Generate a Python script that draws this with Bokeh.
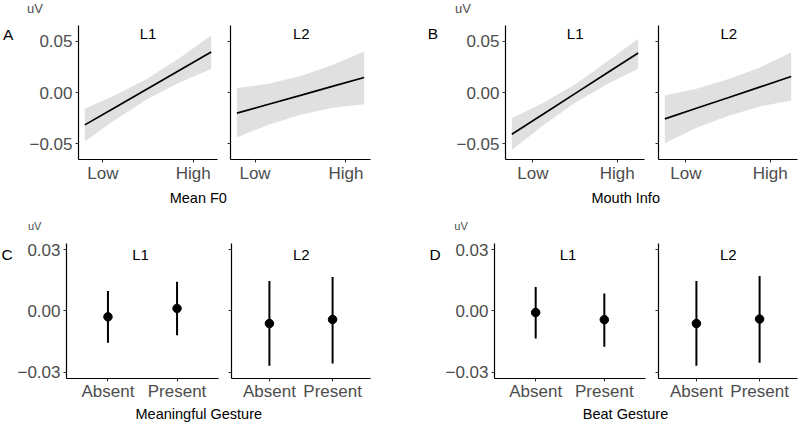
from bokeh.plotting import figure
from bokeh.models import Range1d, FixedTicker, Label
from bokeh.layouts import row, column
from bokeh.core.properties import value
from bokeh.embed import file_html
from bokeh.resources import INLINE

FONT = "Liberation Sans"

# ---------------- data ----------------
# Panel A (Mean F0), continuous predictor
xA = [-1.4, -0.7, 0.0, 0.7, 1.4]
A_L1_fit = [-0.0317, -0.0139, 0.0040, 0.0218, 0.0396]
A_L1_hi = [-0.0160, -0.0019, 0.0140, 0.0338, 0.0559]
A_L1_lo = [-0.0477, -0.0259, -0.0060, 0.0098, 0.0229]
A_L2_fit = [-0.0202, -0.0115, -0.0028, 0.0060, 0.0147]
A_L2_hi = [0.0043, 0.0085, 0.0162, 0.0270, 0.0402]
A_L2_lo = [-0.0437, -0.0315, -0.0218, -0.0150, -0.0114]

# Panel B (Mouth Info)
xB = [-1.5, -0.75, 0.0, 0.75, 1.5]
B_L1_fit = [-0.0408, -0.0210, -0.0011, 0.0188, 0.0386]
B_L1_hi = [-0.0251, -0.0100, 0.0079, 0.0298, 0.0526]
B_L1_lo = [-0.0562, -0.0320, -0.0101, 0.0078, 0.0232]
B_L2_fit = [-0.0258, -0.0154, -0.0051, 0.0053, 0.0157]
B_L2_hi = [-0.0029, 0.0036, 0.0129, 0.0243, 0.0392]
B_L2_lo = [-0.0496, -0.0344, -0.0231, -0.0137, -0.0078]

cont_ticks = [-1, 1]
cont_labels = ["Low", "High"]

# Panels C and D, categorical predictor
cats = ["Absent", "Present"]
C_L1_est = [-0.0029, 0.0012]
C_L1_lo = [-0.0156, -0.0119]
C_L1_hi = [0.0098, 0.0143]
C_L2_est = [-0.0062, -0.0042]
C_L2_lo = [-0.0268, -0.0257]
C_L2_hi = [0.0146, 0.0166]
D_L1_est = [-0.0008, -0.0043]
D_L1_lo = [-0.0135, -0.0176]
D_L1_hi = [0.0117, 0.0085]
D_L2_est = [-0.0062, -0.0040]
D_L2_lo = [-0.0268, -0.0254]
D_L2_hi = [0.0146, 0.0171]

top_yticks = [-0.05, 0, 0.05]
top_ylabels = ["\u22120.05", "0.00", "0.05"]
bot_yticks = [-0.03, 0, 0.03]
bot_ylabels = ["\u22120.03", "0.00", "0.03"]

TOP_YR = (-0.0656, 0.0656)
BOT_YR = (-0.0331, 0.0330)
GREY = "#4D4D4D"


def facet_label(p, t, x, y):
    p.add_layout(Label(x=x, y=y, x_units="screen", y_units="screen", text=t,
                       text_align="center", text_baseline="middle",
                       text_font=FONT, text_font_size="15px", text_color="black"))


def base_fig(fw, fh, bl, br, bt, bb, xr, yr, yticks, ylabels, show_ylab, xstand):
    p = figure(frame_width=fw, frame_height=fh, min_border_left=bl, min_border_right=br,
               min_border_top=bt, min_border_bottom=bb, x_range=Range1d(*xr),
               y_range=Range1d(*yr), output_backend="svg", toolbar_location=None,
               title=None)
    p.outline_line_color = None
    p.grid.visible = False
    for ax in (p.xaxis[0], p.yaxis[0]):
        ax.axis_line_color = "black"
        ax.axis_line_width = 1.2
        ax.major_tick_line_color = "#333333"
        ax.major_tick_line_width = 1.1
        ax.major_tick_in = 0
        ax.major_tick_out = 3
        ax.minor_tick_line_color = None
        ax.major_label_text_font = FONT
        ax.major_label_text_font_size = "17px"
        ax.major_label_text_color = GREY
    p.yaxis.ticker = FixedTicker(ticks=yticks)
    if show_ylab:
        p.yaxis.major_label_overrides = dict(zip(yticks, ylabels))
        p.yaxis.major_label_standoff = 3
    else:
        p.yaxis.major_label_overrides = {t: "" for t in yticks}
        p.yaxis.major_label_standoff = 0
    p.xaxis.major_label_standoff = xstand
    return p


def cont_panel(x, fit, lo, hi, fw, bl, br, show_ylab, facet, facet_dx):
    span = max(x) - min(x)
    xr = (min(x) - 0.05 * span, max(x) + 0.05 * span)
    p = base_fig(fw, 134, bl, br, 10, 30, xr, TOP_YR, top_yticks, top_ylabels, show_ylab, 1)
    p.xaxis.ticker = FixedTicker(ticks=cont_ticks)
    p.xaxis.major_label_overrides = dict(zip(cont_ticks, cont_labels))
    p.varea(x=x, y1=lo, y2=hi, fill_color="#E0E0E0")
    p.line(x, fit, line_color="black", line_width=1.7)
    facet_label(p, facet, facet_dx, 126)
    return p


def cat_panel(est, lo, hi, fw, bl, br, show_ylab, facet, facet_dx):
    pos = [i + 1 for i in range(len(cats))]
    xr = (pos[0] - 0.6, pos[-1] + 0.6)
    p = base_fig(fw, 135, bl, br, 11, 26, xr, BOT_YR, bot_yticks, bot_ylabels, show_ylab, 0)
    p.xaxis.ticker = FixedTicker(ticks=pos)
    p.xaxis.major_label_overrides = dict(zip(pos, cats))
    p.segment(x0=pos, y0=lo, x1=pos, y1=hi, line_color="black", line_width=2)
    p.scatter(pos, est, size=8.5, fill_color="black", line_color="black")
    facet_label(p, facet, facet_dx, 124.2)
    return p


def blank(w, h, labels):
    """A bare canvas whose data units are pixels (y measured up from its bottom)."""
    s = figure(width=w, height=h, x_range=Range1d(0, w), y_range=Range1d(0, h),
               x_axis_type=None, y_axis_type=None, min_border=0,
               output_backend="svg", toolbar_location=None, title=None)
    s.outline_line_color = None
    s.grid.visible = False
    for t, x, y, size, col in labels:
        s.text(x=[x], y=[y], text=[t], text_align="center", text_baseline="middle",
               text_font=value(FONT), text_font_size=value(size), text_color=col)
    return s


# ---- strip above top row ----
s0 = blank(798, 15, [("uV", 34.5, 7.5, "13px", GREY), ("uV", 462.5, 7.5, "13px", GREY)])

# ---- top row ----
la = blank(16, 174, [("A", 7.7, 162.8, "15.5px", "black")])
a1 = cont_panel(xA, A_L1_fit, A_L1_lo, A_L1_hi, 139, 62, 5, True, "L1", 69.5)
a2 = cont_panel(xA, A_L2_fit, A_L2_lo, A_L2_hi, 140, 8, 50, False, "L2", 70.8)
lb = blank(22, 174, [("B", 12.5, 163.2, "15.5px", "black")])
b1 = cont_panel(xB, B_L1_fit, B_L1_lo, B_L1_hi, 139, 63, 6, True, "L1", 69.7)
b2 = cont_panel(xB, B_L2_fit, B_L2_lo, B_L2_hi, 139, 8, 1, False, "L2", 70.3)

# ---- strip between rows ----
s1 = blank(798, 43, [("Mean F0", 197.8, 35, "14.5px", "black"),
                     ("Mouth Info", 625.2, 35, "14.5px", "black"),
                     ("uV", 34.2, 6.5, "11px", GREY), ("uV", 460.5, 6.5, "11px", GREY)])

# ---- bottom row ----
lc = blank(14, 172, [("C", 6.7, 157.7, "15.5px", "black")])
c1 = cat_panel(C_L1_est, C_L1_lo, C_L1_hi, 152, 52, 5, True, "L1", 74.0)
c2 = cat_panel(C_L2_est, C_L2_lo, C_L2_hi, 139, 8, 50, False, "L2", 69.8)
ld = blank(22, 172, [("D", 14.7, 157.7, "15.5px", "black")])
d1 = cat_panel(D_L1_est, D_L1_lo, D_L1_hi, 151, 52, 5, True, "L1", 73.5)
d2 = cat_panel(D_L2_est, D_L2_lo, D_L2_hi, 139, 8, 1, False, "L2", 69.8)

# ---- strip below ----
s2 = blank(798, 19, [("Meaningful Gesture", 198.3, 9.7, "14.5px", "black"),
                     ("Beat Gesture", 625.0, 9.7, "14.5px", "black")])

layout = column(s0, row(la, a1, a2, lb, b1, b2), s1, row(lc, c1, c2, ld, d1, d2), s2)

open("out.html", "w").write(file_html(layout, INLINE))
